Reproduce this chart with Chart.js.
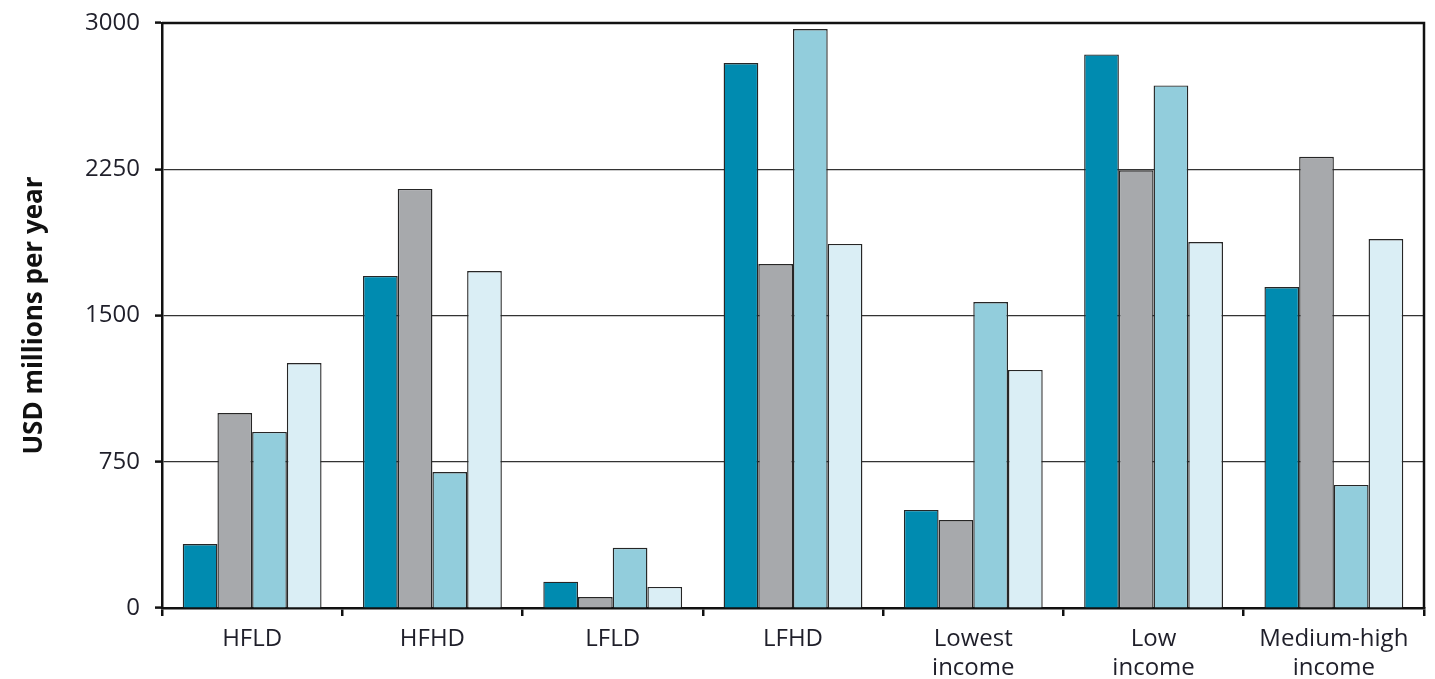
<!DOCTYPE html>
<html>
<head>
<meta charset="utf-8">
<script src="https://cdn.jsdelivr.net/npm/chart.js@4"></script>
<style>
  html, body { margin: 0; padding: 0; background: #fff; }
  canvas { display: block; }
</style>
</head>
<body>
<canvas id="chart" width="1435" height="679"></canvas>
<script>
const categories = ["HFLD", "HFHD", "LFLD", "LFHD", ["Lowest", "income"], ["Low", "income"], ["Medium-high", "income"]];
const series1 = [328, 1703, 135, 2795, 503, 2839, 1646];
const series2 = [1000, 2149, 56, 1764, 451, 2245, 2314];
const series3 = [903, 697, 309, 2969, 1569, 2680, 631];
const series4 = [1256, 1728, 108, 1867, 1221, 1877, 1892];
const yTicks = [0, 750, 1500, 2250, 3000];

const frame = {
  id: "frame",
  afterDatasetsDraw(chart) {
    const a = chart.chartArea;
    const ctx = chart.ctx;
    ctx.save();
    ctx.strokeStyle = "#111";
    ctx.lineWidth = 2.5;
    ctx.beginPath();
    ctx.moveTo(a.left, a.top);
    ctx.lineTo(a.right, a.top);
    ctx.lineTo(a.right, a.bottom);
    ctx.stroke();
    ctx.restore();
  }
};

const font = { family: "'Open Sans', 'Noto Sans', sans-serif", size: 24, lineHeight: 1.2 };
const bar = (data, color) => ({
  data, backgroundColor: color, borderColor: "#262626", borderWidth: 1.4,
  categoryPercentage: 0.77, barPercentage: 1
});

new Chart(document.getElementById("chart"), {
  type: "bar",
  data: {
    labels: categories,
    datasets: [
      bar(series1, "#008bb0"),
      bar(series2, "#a7a9ac"),
      bar(series3, "#92cddc"),
      bar(series4, "#daeef5")
    ]
  },
  options: {
    responsive: false,
    animation: false,
    layout: { padding: { top: 23, right: 11, left: 0, bottom: 0 } },
    plugins: { legend: { display: false }, tooltip: { enabled: false } },
    scales: {
      x: {
        afterFit: (s) => { s.height = 71; s.paddingLeft = 0; s.paddingRight = 0; },
        grid: { offset: true, drawOnChartArea: false, color: "#111", lineWidth: 2.5, tickLength: 8 },
        border: { color: "#111", width: 2.5 },
        ticks: { color: "#1f1f2a", font, padding: 9 }
      },
      y: {
        min: 0, max: 3000,
        afterFit: (s) => { s.width = 162; s.paddingTop = 0; s.paddingBottom = 0; },
        afterBuildTicks: (s) => { s.ticks = yTicks.map(v => ({ value: v })); },
        grid: { color: "#333", lineWidth: 1.2, tickLength: 7,
                tickColor: "#111", tickWidth: 2.5 },
        border: { color: "#111", width: 2.5 },
        ticks: { color: "#1f1f2a", font: { family: font.family, size: 24 }, padding: 15,
                 callback: (v) => String(v) },
        title: { display: true, text: "USD millions per year", color: "#111",
                 font: { family: font.family, size: 26, weight: "bold" }, padding: { top: 19 } }
      }
    }
  },
  plugins: [frame]
});
</script>
</body>
</html>
